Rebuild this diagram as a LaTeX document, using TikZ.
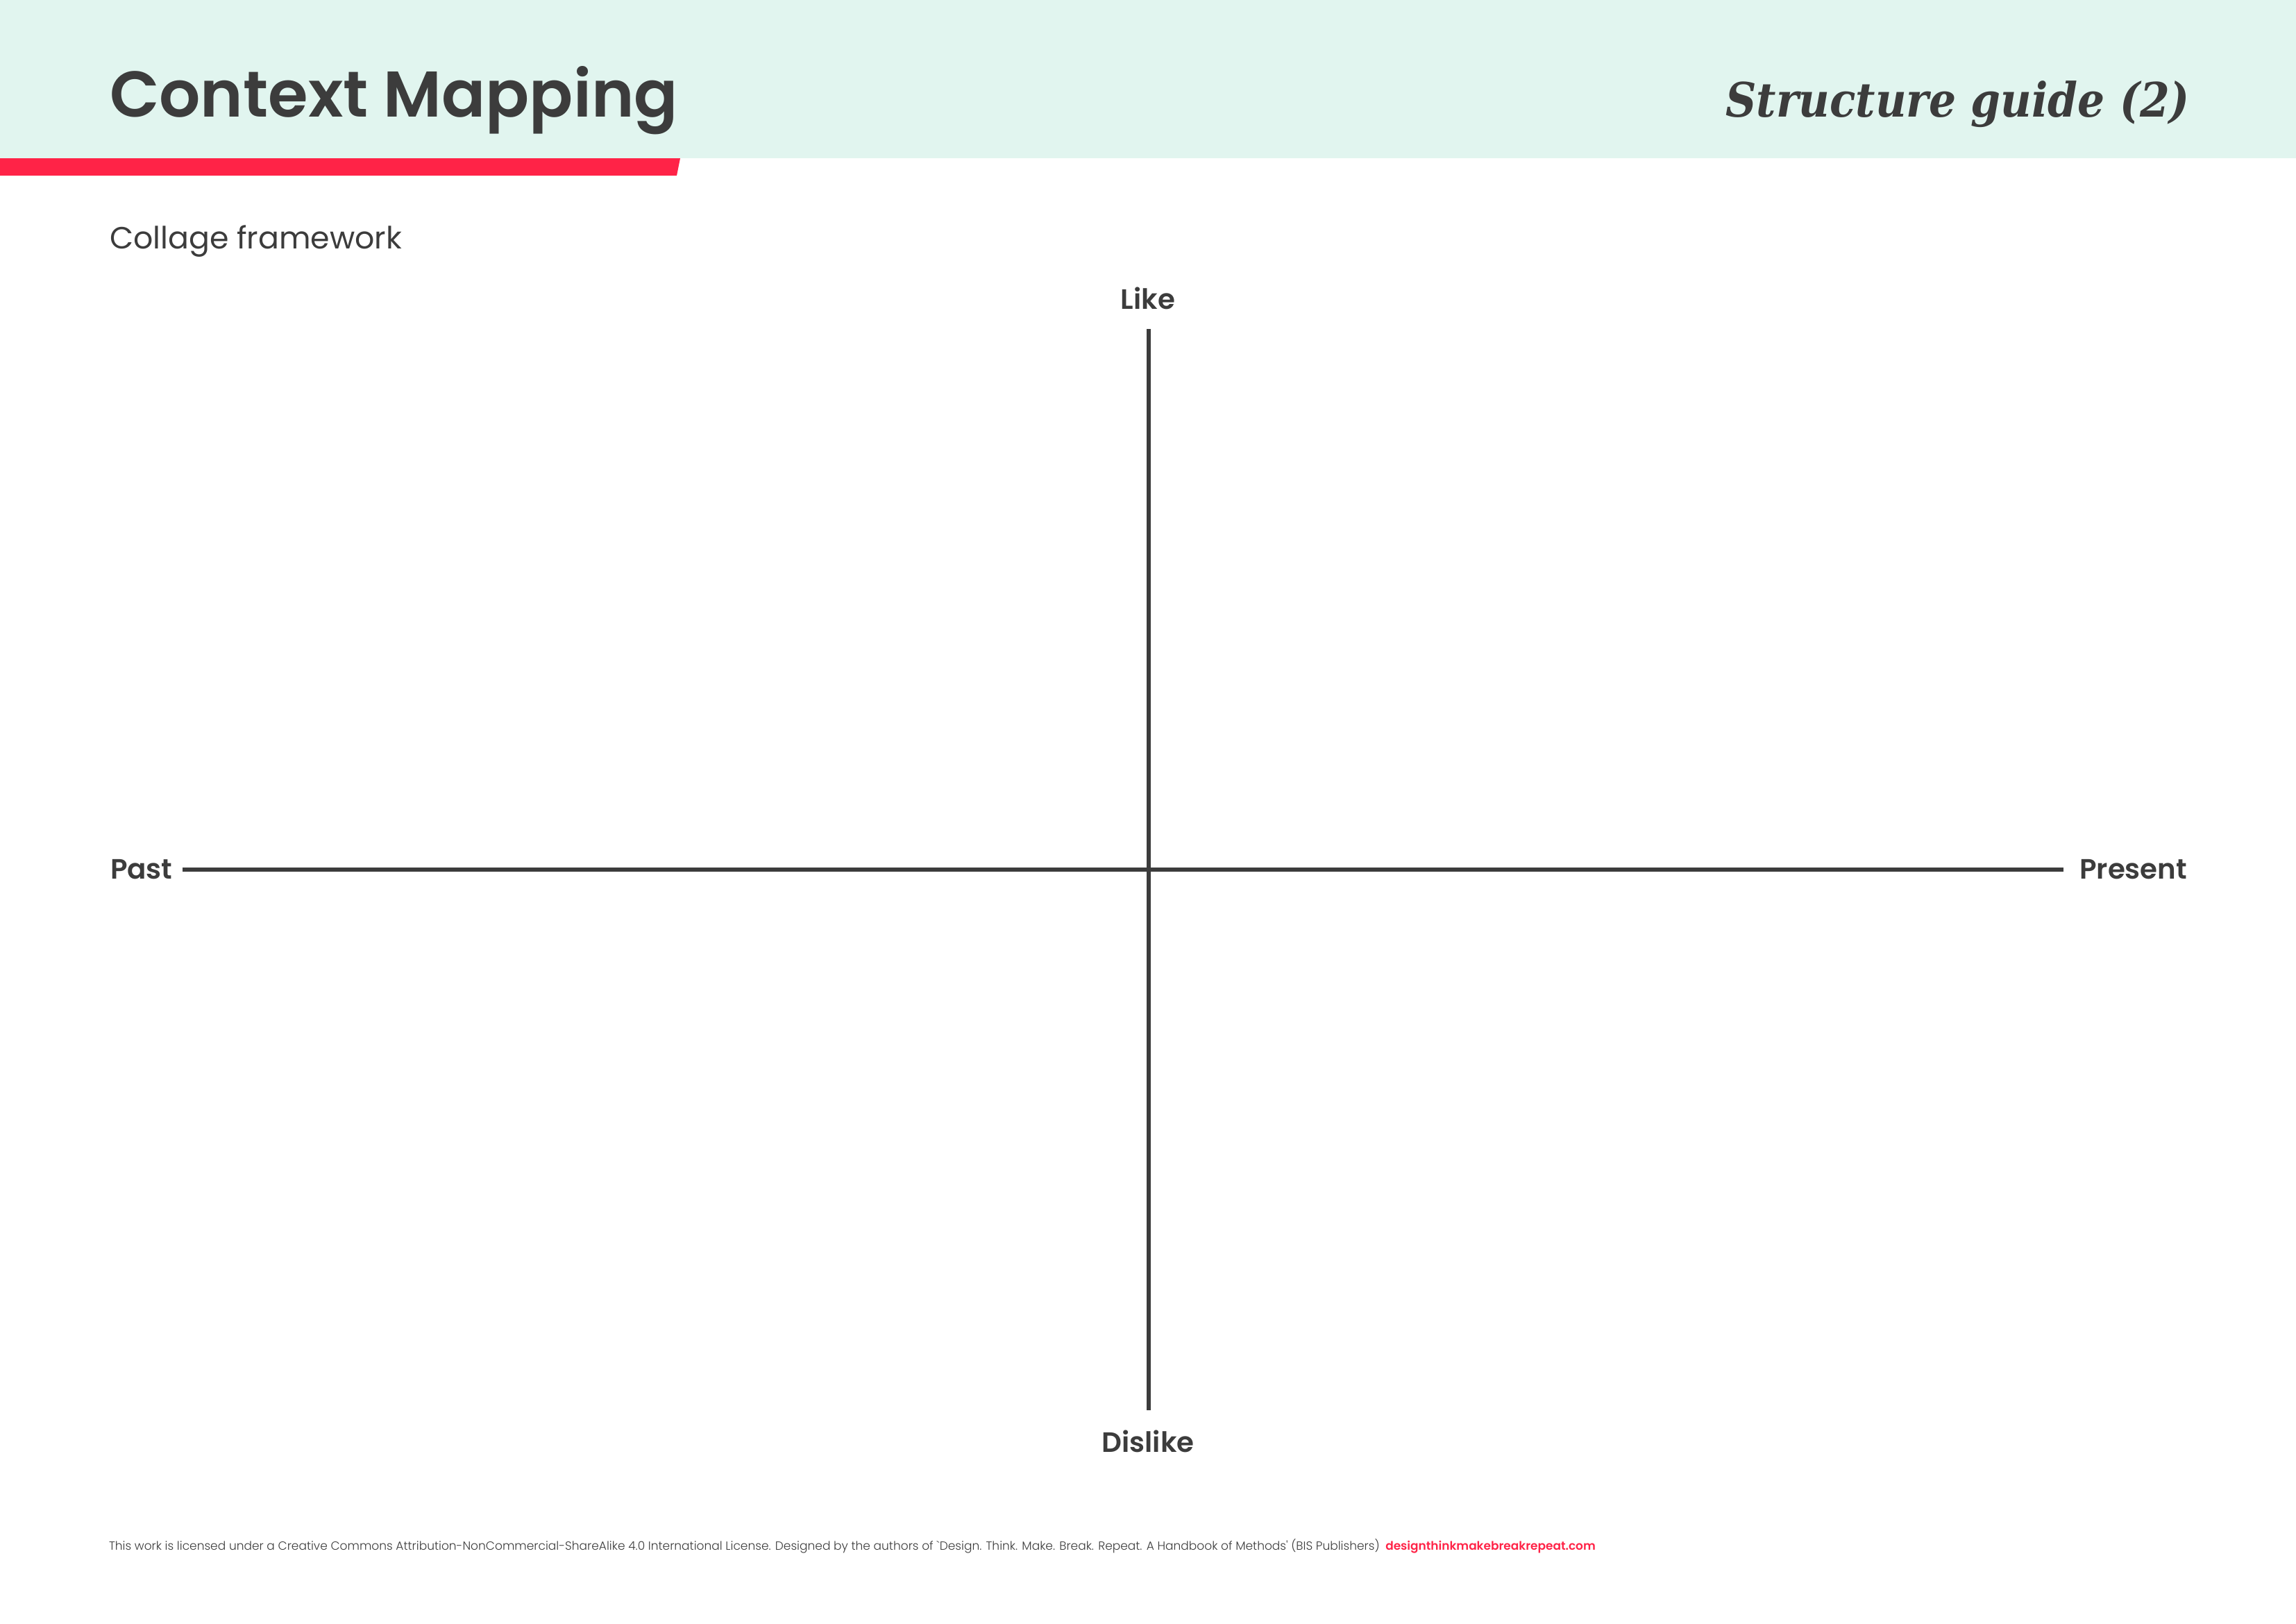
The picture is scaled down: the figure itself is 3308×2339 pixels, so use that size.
\documentclass[tikz,border=0pt]{standalone}
\usepackage{fontspec}
\setmainfont{Poppins}
\newfontfamily\poplight{Poppins Light}
\newfontfamily\popsemi{Poppins SemiBold}
\newfontfamily\guideserif{DejaVu Serif Condensed}
\definecolor{ink}{HTML}{3C3C3C}
\definecolor{mint}{HTML}{E1F5EF}
\definecolor{accent}{HTML}{FF2347}
\tikzset{
  txt/.style={inner sep=0pt, outer sep=0pt, text=ink},
  axislabel/.style={txt, font=\popsemi\fontsize{10.3}{12}\selectfont},
  axisline/.style={draw=ink, line width=1.55pt},
  footnote/.style={txt, anchor=base west, font=\poplight\fontsize{4.35}{6}\selectfont},
}
\begin{document}
\begin{tikzpicture}[x=297mm/3308, y=-210mm/2339]
\useasboundingbox (0,0) rectangle (3308,2339);
\fill[white] (0,0) rectangle (3308,2339);
% header
\fill[mint] (0,0) rectangle (3308,228);
\fill[accent] (0,228) -- (980,228) -- (975,253) -- (0,253) -- cycle;
\node[txt, anchor=base west, font=\popsemi\fontsize{23.8}{28}\selectfont] (title) at (158,168) {Context Mapping};
\node[txt, anchor=base east, font=\guideserif\bfseries\itshape\fontsize{17.45}{21}\selectfont] (guide) at (3155,168) {Structure guide (2)};
\node[txt, anchor=base west, font=\fontsize{11.3}{13}\selectfont] (sub) at (158,358) {Collage framework};
% axes
\coordinate (top) at (1655,474);
\coordinate (bottom) at (1655,2032);
\coordinate (left) at (263,1253);
\coordinate (right) at (2973,1253);
\draw[axisline] (top) -- (bottom);
\draw[axisline] (left) -- (right);
\node[axislabel, anchor=base] (like) at (1654,445) {Like};
\node[axislabel, anchor=base] (dislike) at (1654,2092) {Dislike};
\node[axislabel, anchor=base west] (past) at (159,1266) {Past};
\node[axislabel, anchor=base east] (present) at (3151,1266) {Present};
% footer
\node[footnote] (foot) at (157,2233) {This work is licensed under a Creative Commons Attribution-NonCommercial-ShareAlike 4.0 International License. Designed by the authors of `Design. Think. Make. Break. Repeat. A Handbook of Methods' (BIS Publishers)};
\node[footnote, text=accent, font=\popsemi\fontsize{4.33}{6}\selectfont] (link) at ([xshift=2.2pt]foot.base east) {designthinkmakebreakrepeat.com};
\end{tikzpicture}
\end{document}
